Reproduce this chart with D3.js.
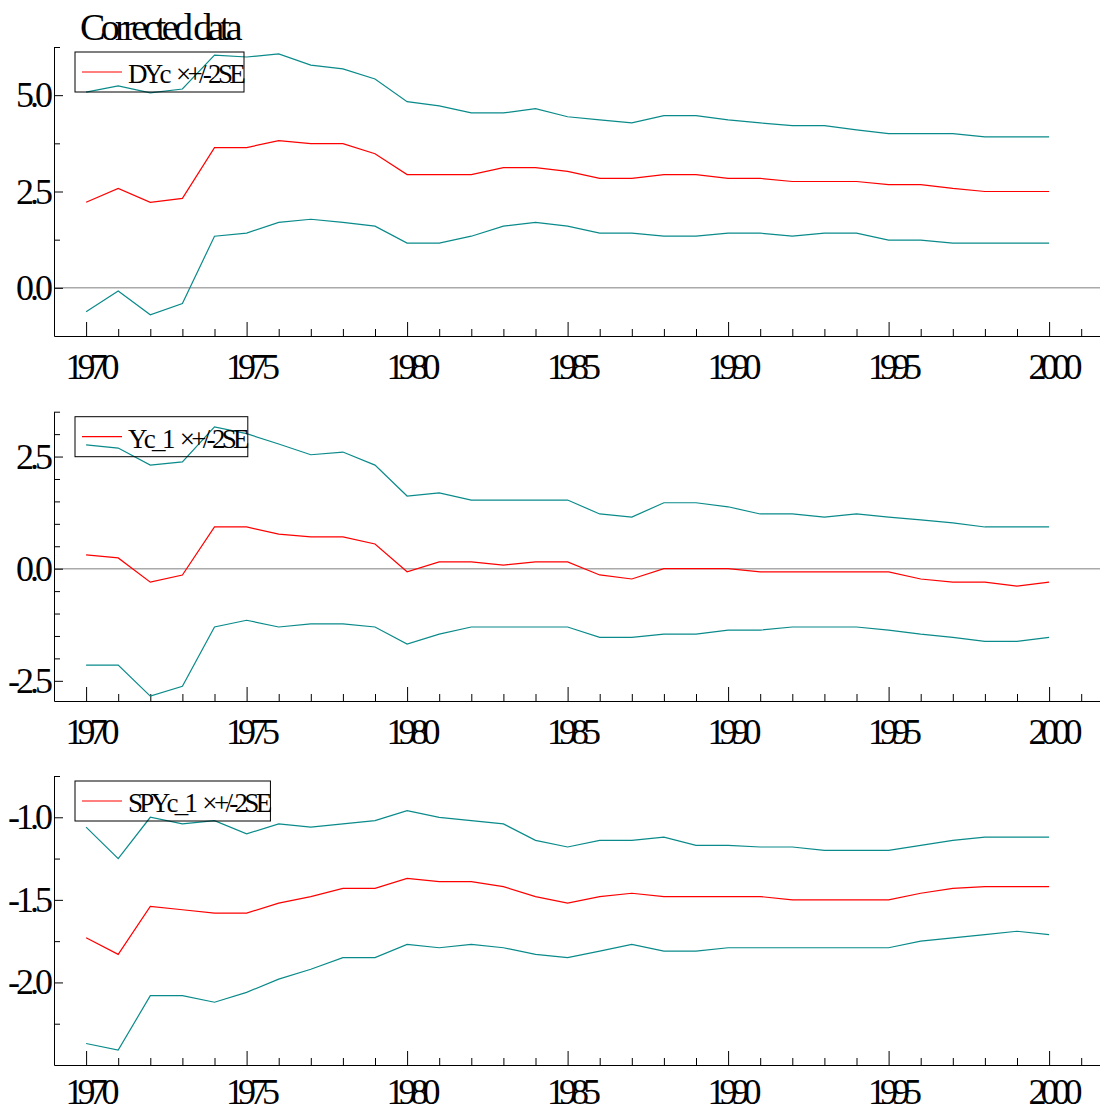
<!DOCTYPE html>
<html>
<head>
<meta charset="utf-8">
<script src="https://cdn.jsdelivr.net/npm/d3@7"></script>
<style>
body { margin: 0; background: #fff; }
svg { display: block; }
.axis text { font-family: "Liberation Serif", "Times New Roman", serif; font-size: 36px; fill: #000; }
.axis path, .axis line { stroke: #000; }
.legend text, .title { font-family: "Liberation Serif", "Times New Roman", serif; fill: #000; }
</style>
</head>
<body>
<svg class="chart" width="1100" height="1111"></svg>
<script>
'use strict';

var YEARS = [1970, 1971, 1972, 1973, 1974, 1975, 1976, 1977, 1978, 1979,
             1980, 1981, 1982, 1983, 1984, 1985, 1986, 1987, 1988, 1989,
             1990, 1991, 1992, 1993, 1994, 1995, 1996, 1997, 1998, 1999, 2000];

// DYc
var DY_UP  = [5.08, 5.24, 5.06, 5.16, 6.04, 5.99, 6.07, 5.78, 5.68, 5.42,
              4.83, 4.72, 4.54, 4.54, 4.65, 4.44, 4.36, 4.28, 4.47, 4.47,
              4.36, 4.28, 4.21, 4.21, 4.10, 4.00, 4.00, 4.00, 3.92, 3.92, 3.92];
var DY_FIT = [2.22, 2.58, 2.22, 2.32, 3.64, 3.64, 3.82, 3.74, 3.74, 3.48,
              2.94, 2.94, 2.94, 3.12, 3.12, 3.02, 2.84, 2.84, 2.94, 2.94,
              2.84, 2.84, 2.76, 2.76, 2.76, 2.68, 2.68, 2.58, 2.50, 2.50, 2.50];
var DY_LO  = [-0.62, -0.08, -0.70, -0.41, 1.34, 1.42, 1.70, 1.78, 1.70, 1.60,
              1.16, 1.16, 1.34, 1.60, 1.70, 1.60, 1.42, 1.42, 1.34, 1.34,
              1.42, 1.42, 1.34, 1.42, 1.42, 1.24, 1.24, 1.16, 1.16, 1.16, 1.16];

// Yc_1
var Y_UP  = [2.76, 2.69, 2.31, 2.38, 3.16, 3.01, 2.78, 2.54, 2.60, 2.31,
             1.62, 1.69, 1.53, 1.53, 1.53, 1.53, 1.22, 1.15, 1.47, 1.47,
             1.38, 1.22, 1.22, 1.15, 1.22, 1.15, 1.09, 1.02, 0.93, 0.93, 0.93];
var Y_FIT = [0.31, 0.24, -0.30, -0.14, 0.93, 0.93, 0.77, 0.71, 0.71, 0.55,
             -0.07, 0.15, 0.15, 0.08, 0.15, 0.15, -0.14, -0.23, 0.00, 0.00,
             0.00, -0.07, -0.07, -0.07, -0.07, -0.07, -0.23, -0.30, -0.30, -0.39, -0.30];
var Y_LO  = [-2.15, -2.15, -2.84, -2.62, -1.30, -1.15, -1.30, -1.23, -1.23, -1.30,
             -1.68, -1.46, -1.30, -1.30, -1.30, -1.30, -1.53, -1.53, -1.46, -1.46,
             -1.37, -1.37, -1.30, -1.30, -1.30, -1.37, -1.46, -1.53, -1.62, -1.62, -1.53];

// SPYc_1
var SP_UP  = [-1.06, -1.25, -1.00, -1.04, -1.02, -1.10, -1.04, -1.06, -1.04, -1.02,
              -0.96, -1.00, -1.02, -1.04, -1.14, -1.18, -1.14, -1.14, -1.12, -1.17,
              -1.17, -1.18, -1.18, -1.20, -1.20, -1.20, -1.17, -1.14, -1.12, -1.12, -1.12];
var SP_FIT = [-1.73, -1.83, -1.54, -1.56, -1.58, -1.58, -1.52, -1.48, -1.43, -1.43,
              -1.37, -1.39, -1.39, -1.42, -1.48, -1.52, -1.48, -1.46, -1.48, -1.48,
              -1.48, -1.48, -1.50, -1.50, -1.50, -1.50, -1.46, -1.43, -1.42, -1.42, -1.42];
var SP_LO  = [-2.37, -2.41, -2.08, -2.08, -2.12, -2.06, -1.98, -1.92, -1.85, -1.85,
              -1.77, -1.79, -1.77, -1.79, -1.83, -1.85, -1.81, -1.77, -1.81, -1.81,
              -1.79, -1.79, -1.79, -1.79, -1.79, -1.79, -1.75, -1.73, -1.71, -1.69, -1.71];

var X_MAJOR = [1970, 1975, 1980, 1985, 1990, 1995, 2000];
var X_MINOR = [1971, 1972, 1973, 1974, 1976, 1977, 1978, 1979, 1981, 1982, 1983, 1984,
               1986, 1987, 1988, 1989, 1991, 1992, 1993, 1994, 1996, 1997, 1998, 1999, 2001];

var LEGENDS = ['DYc \u00d7+/-2SE', 'Yc_1 \u00d7+/-2SE', 'SPYc_1 \u00d7+/-2SE'];
var Y_MAJOR = [[0, 2.5, 5], [-2.5, 0, 2.5], [-2, -1.5, -1]];
var Y_MINOR = [[1.25, 3.75, 6.25],
               [-2, -1.5, -1, -0.5, 0.5, 1, 1.5, 2, 3, 3.5],
               [-2.25, -1.75, -1.25, -0.75]];

var LEFT = 54;
var PX_PER_YEAR = 32.1;
var RED = '#ff0000';
var TEAL = '#0a8a8a';

var panels = [
    { top: 47,    bottom: 336,  domain: [-1.25, 6.25], zero: true,  pad: 17, up: DY_UP, fit: DY_FIT, lo: DY_LO },
    { top: 411.7, bottom: 701,  domain: [-2.95, 3.5],  zero: true,  pad: 17, up: Y_UP,  fit: Y_FIT,  lo: Y_LO },
    { top: 776,   bottom: 1065, domain: [-2.5, -0.75], zero: false, pad: 13, up: SP_UP, fit: SP_FIT, lo: SP_LO }
];

var svg = d3.select('svg.chart');

var x = d3.scaleLinear()
    .domain([1969, 2002])
    .range([LEFT, LEFT + 33 * PX_PER_YEAR]);

svg.append('text')
    .attr('class', 'title')
    .attr('x', 159)
    .attr('y', 40)
    .attr('text-anchor', 'middle')
    .style('font-size', '38px')
    .style('letter-spacing', '-4.6px')
    .text('Corrected data');

panels.forEach(function (p, i) {
    var y = d3.scaleLinear()
        .domain(p.domain)
        .range([p.bottom, p.top]);

    var g = svg.append('g');

    if (p.zero) {
        g.append('line')
            .attr('x1', LEFT)
            .attr('x2', 1100)
            .attr('y1', y(0))
            .attr('y2', y(0))
            .attr('stroke', '#aaa')
            .attr('stroke-width', 1.5);
    }

    // x axis: ticks point upward, minor every year
    g.append('g')
        .attr('class', 'axis')
        .attr('transform', 'translate(0,' + p.bottom + ')')
        .call(d3.axisBottom(x).tickValues(X_MINOR).tickSizeInner(-7).tickSizeOuter(0).tickFormat(''))
        .call(function (s) { s.select('.domain').remove(); });

    g.append('g')
        .attr('class', 'axis')
        .attr('transform', 'translate(0,' + p.bottom + ')')
        .call(d3.axisBottom(x).tickValues(X_MAJOR).tickSizeInner(-14).tickSizeOuter(0)
            .tickPadding(p.pad).tickFormat(function (d) { return String(d); }))
        .call(function (s) {
            s.selectAll('text').style('letter-spacing', '-6px').attr('dx', '3px');
        });

    // y axis: ticks point inward
    g.append('g')
        .attr('class', 'axis')
        .attr('transform', 'translate(' + LEFT + ',0)')
        .call(d3.axisLeft(y).tickValues(Y_MINOR[i]).tickSizeInner(-6).tickSizeOuter(0).tickFormat(''))
        .call(function (s) { s.select('.domain').remove(); });

    g.append('g')
        .attr('class', 'axis')
        .attr('transform', 'translate(' + LEFT + ',0)')
        .call(d3.axisLeft(y).tickValues(Y_MAJOR[i]).tickSizeInner(-9).tickSizeOuter(0)
            .tickPadding(5).tickFormat(function (d) { return d.toFixed(1); }))
        .call(function (s) {
            s.selectAll('text').style('letter-spacing', '-4px');
        });

    var line = d3.line()
        .x(function (d, j) { return x(YEARS[j]); })
        .y(function (d) { return y(d); });

    [[p.up, TEAL], [p.lo, TEAL], [p.fit, RED]].forEach(function (s) {
        g.append('path')
            .datum(s[0])
            .attr('fill', 'none')
            .attr('stroke', s[1])
            .attr('stroke-width', 1.2)
            .attr('d', line);
    });

    // legend (transparent box, only the red entry)
    var lg = g.append('g')
        .attr('class', 'legend')
        .attr('transform', 'translate(75,' + (p.top + 5) + ')');

    var txt = lg.append('text')
        .attr('x', 53)
        .attr('y', 31)
        .style('font-size', '27px')
        .style('letter-spacing', '-3.7px')
        .style('word-spacing', '5px')
        .text(LEGENDS[i]);

    var w = txt.node().getComputedTextLength();

    lg.insert('rect', 'text')
        .attr('x', 0)
        .attr('y', 0)
        .attr('width', 53 + w + 2)
        .attr('height', 40)
        .attr('fill', 'none')
        .attr('stroke', '#000')
        .attr('stroke-width', 1);

    lg.append('line')
        .attr('x1', 7)
        .attr('x2', 47)
        .attr('y1', 20)
        .attr('y2', 20)
        .attr('stroke', RED)
        .attr('stroke-width', 1.2);
});
</script>
</body>
</html>
